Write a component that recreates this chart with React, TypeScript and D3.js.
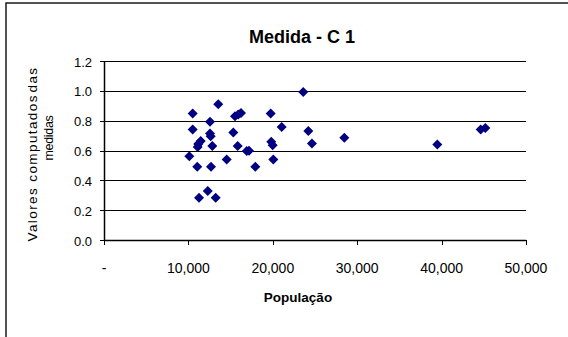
import React from "react";
import * as d3 from "d3";

// Municipality population and the computed value of measure C 1
const populacao = [
  13540, 10510, 12560, 15520, 15910, 16230, 19750, 10510, 15320, 21050,
  12560, 12640, 11460, 11170, 11100, 12830, 15840, 16910, 17180, 19820,
  19990, 10110, 14540, 20060, 11050, 12680, 17930, 12290, 11260, 13230,
  23610, 24210, 28470, 24640, 39490, 44630, 45180,
];
const valores = [
  0.91, 0.848, 0.792, 0.83, 0.841, 0.852, 0.848, 0.741, 0.721, 0.758,
  0.714, 0.696, 0.663, 0.643, 0.624, 0.631, 0.631, 0.596, 0.598, 0.658,
  0.636, 0.562, 0.54, 0.54, 0.491, 0.491, 0.491, 0.328, 0.283, 0.283,
  0.993, 0.73, 0.685, 0.647, 0.641, 0.741, 0.75,
];

const xTicks = [0, 10000, 20000, 30000, 40000, 50000];
const yTicks = [0, 0.2, 0.4, 0.6, 0.8, 1.0, 1.2];

const titulo = "Medida - C 1";
const tituloX = "População";
const tituloY = ["Valores computados", " das", "medidas"];

const W = 568;
const H = 337;
const plot = { left: 104, right: 526, top: 61, bottom: 240 };
const font = "'Liberation Sans', Arial, Helvetica, sans-serif";
const marker = "#000080";

export default function App() {
  const x = d3.scaleLinear().domain([0, 50000]).range([plot.left, plot.right]);
  const y = d3.scaleLinear().domain([0, 1.2]).range([plot.bottom, plot.top]);
  const fmtX = (v: number) => (v === 0 ? "-" : d3.format(",")(v));
  const fmtY = d3.format(".1f");
  const diamond = d3.symbol().type(d3.symbolSquare).size(50)() as string;
  const pts = populacao.map((p, i) => ({ p, v: valores[i] }));
  const px = (v: number) => Math.round(v) + 0.5;

  return (
    <svg
      width={W}
      height={H}
      style={{ position: "absolute", left: 0, top: 0, background: "#fff" }}
      fontFamily={font}
    >
      <rect x={6} y={3} width={700} height={500} fill="#fff" stroke="#1a1a1a" strokeWidth={1.5} />

      <text x={302} y={43} textAnchor="middle" fontSize={18} fontWeight="bold" fill="#000">
        {titulo}
      </text>

      {/* horizontal gridlines */}
      {yTicks.filter((t) => t > 0).map((t) => (
        <line key={"g" + t} x1={plot.left} x2={plot.right} y1={px(y(t))} y2={px(y(t))} stroke="#000" strokeWidth={1} />
      ))}

      {/* y axis */}
      <line x1={plot.left + 0.5} x2={plot.left + 0.5} y1={plot.top} y2={plot.bottom} stroke="#000" strokeWidth={1.5} />
      {yTicks.map((t) => (
        <g key={"y" + t}>
          <line x1={plot.left - 4} x2={plot.left} y1={px(y(t))} y2={px(y(t))} stroke="#000" />
          <text x={92} y={y(t) + 5.5} textAnchor="end" fontSize={13} fill="#000">
            {fmtY(t)}
          </text>
        </g>
      ))}

      {/* x axis */}
      <line x1={plot.left} x2={plot.right} y1={plot.bottom + 0.5} y2={plot.bottom + 0.5} stroke="#000" strokeWidth={1.5} />
      {xTicks.map((t) => (
        <g key={"x" + t}>
          <line x1={px(x(t))} x2={px(x(t))} y1={plot.bottom} y2={plot.bottom + 5} stroke="#000" />
          <text x={x(t)} y={273} textAnchor="middle" fontSize={14} fill="#000">
            {fmtX(t)}
          </text>
        </g>
      ))}

      <text x={298} y={302} textAnchor="middle" fontSize={13.5} fontWeight="bold" fill="#000">
        {tituloX}
      </text>

      {/* two-line rotated y-axis title */}
      <text transform="translate(37,154) rotate(-90)" textAnchor="middle" fontSize={13.5} letterSpacing={1.4} fill="#000">
        {tituloY[0]}
        <tspan dx={-3.5}>{tituloY[1]}</tspan>
      </text>
      <text transform="translate(53,138) rotate(-90)" textAnchor="middle" fontSize={12.5} letterSpacing={-0.3} fill="#000">
        {tituloY[2]}
      </text>

      {pts.map((d, i) => (
        <path
          key={i}
          d={diamond}
          transform={`translate(${x(d.p)},${y(d.v)}) rotate(45)`}
          fill={marker}
        />
      ))}
    </svg>
  );
}
